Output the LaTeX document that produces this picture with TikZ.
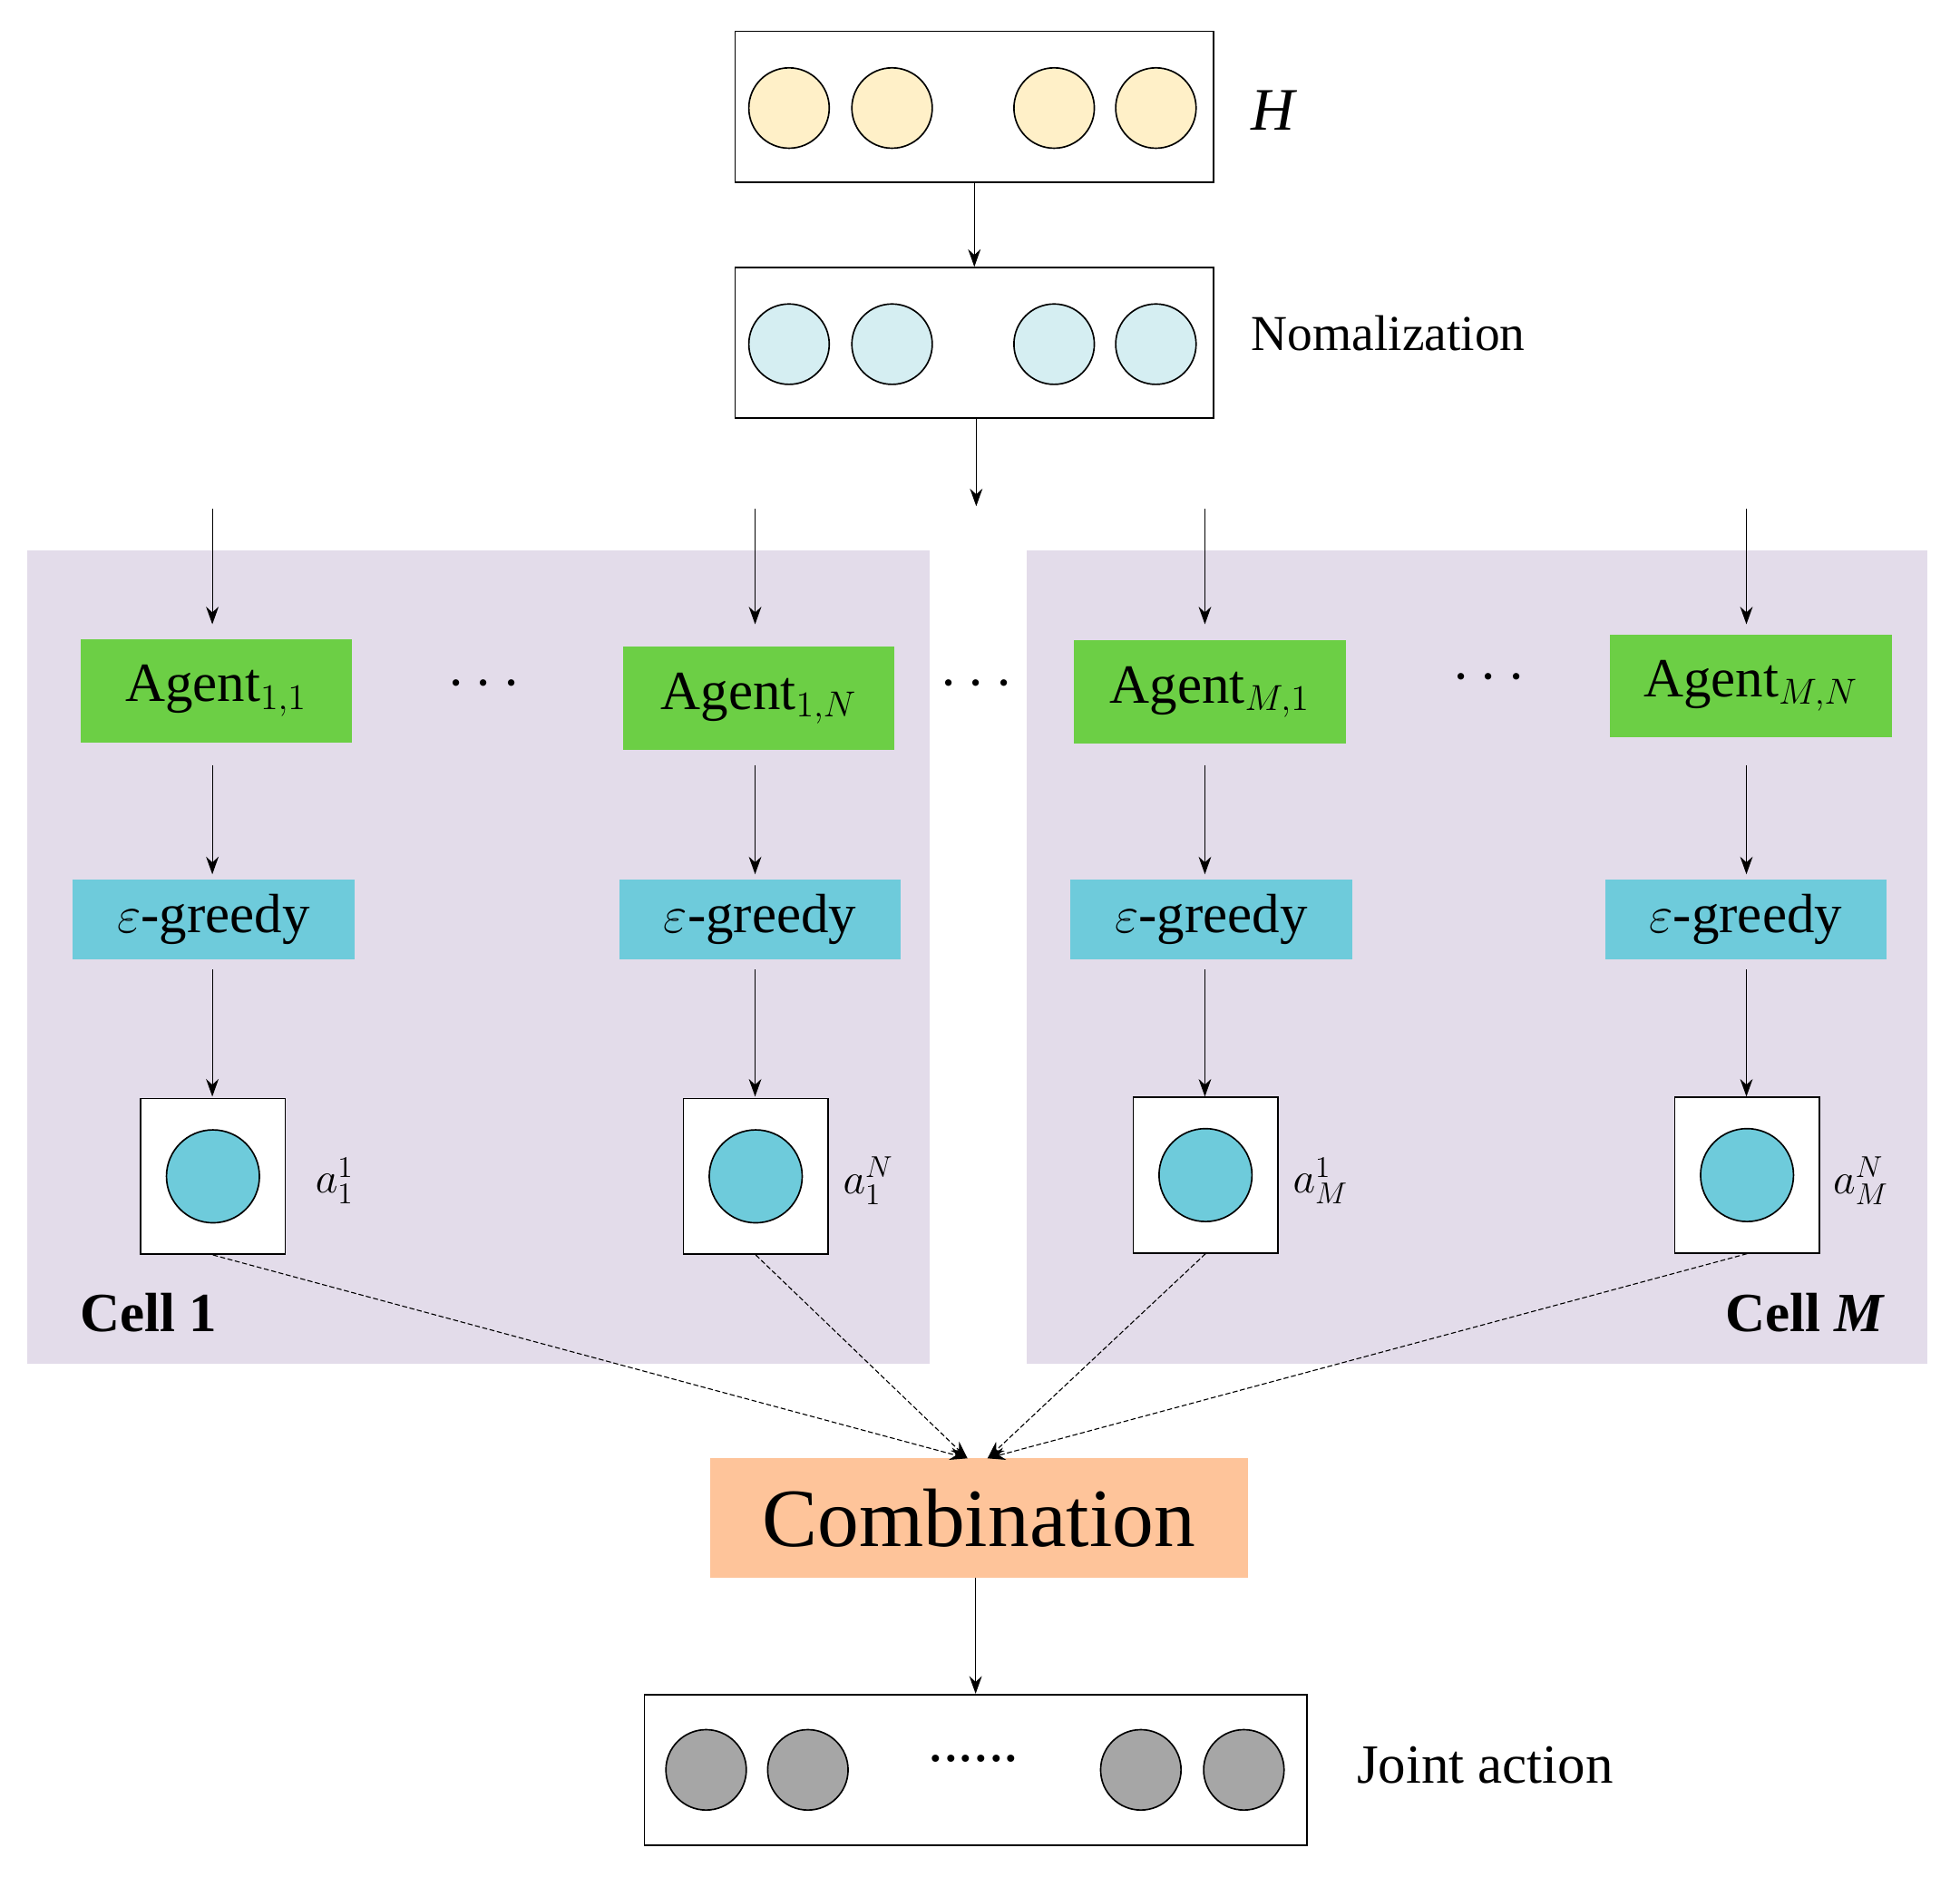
\documentclass[tikz,border=0pt]{standalone}
\usepackage{fontspec}
\setmainfont{Liberation Serif}
\usetikzlibrary{arrows.meta}
\definecolor{cyel}{HTML}{FFF0C8}
\definecolor{ccyan}{HTML}{D5EEF2}
\definecolor{panel}{HTML}{E3DCEA}
\definecolor{agreen}{HTML}{6CCF45}
\definecolor{gblue}{HTML}{6ECBDB}
\definecolor{comb}{HTML}{FEC49A}
\definecolor{gry}{HTML}{A6A6A6}
\begin{document}
\begin{tikzpicture}[x=0.5pt,y=-0.5pt,
 box/.style={draw,line width=0.6pt,fill=white},
 circ/.style={draw,line width=0.6pt,circle,minimum size=32pt,inner sep=0pt},
 arr/.style={-{Stealth[length=7pt,width=5pt]},line width=0.4pt},
 agent/.style={fill=agreen,minimum width=108pt,minimum height=41pt,font=\fontsize{22}{24}\selectfont,inner sep=0pt},
 greedy/.style={fill=gblue,minimum width=112pt,minimum height=32pt,font=\fontsize{22}{24}\selectfont,inner sep=0pt},
 act/.style={draw,fill=white,line width=0.6pt,minimum width=57.5pt,minimum height=62pt,inner sep=0pt},
 dsh/.style={dashed,dash pattern=on 2pt off 1pt,line width=0.4pt,-{Stealth[length=7pt,width=5pt]}},
 lab/.style={font=\fontsize{18}{20}\selectfont}]
\useasboundingbox (0,0) rectangle (1560,1494);
% panels
\fill[panel] (22,438) rectangle (740,1086);
\fill[panel] (817,438) rectangle (1534,1086);
% H
\node[box,minimum width=190.5pt,minimum height=60pt,inner sep=0pt] (hb) at (775.5,85) {};
\foreach \x/\n in {628/1,710/2,839/3,920/4} \node[circ,fill=cyel] (h\n) at (\x,86) {};
\node[font=\fontsize{24}{26}\selectfont\itshape] (hl) at (1013,88) {H};
% Norm
\node[box,minimum width=190.5pt,minimum height=60pt,inner sep=0pt] (nb) at (775.5,273) {};
\foreach \x/\n in {628/1,710/2,839/3,920/4} \node[circ,fill=ccyan] (n\n) at (\x,274) {};
\node[font=\fontsize{20}{22}\selectfont] (nl) at (1105,265) {Nomalization};
\draw[arr] (hb.south) -- (nb.north);
\coordinate (nd) at (777,403);
\draw[arr] (nb.south -| nd) -- (nd);
% agents
\node[agent] (a1) at (172,550) {Agent$_{1,1}$};
\node[agent] (a2) at (604,556) {Agent$_{1,N}$};
\node[agent] (a3) at (963,551) {Agent$_{M,1}$};
\node[agent,minimum width=112.5pt] (a4) at (1393.5,546) {Agent$_{M,N}$};
\foreach \x/\n in {169/1,601/2,959/3,1390/4}{
 \coordinate (t\n) at (\x,405); \coordinate (tt\n) at (\x,497);
 \draw[arr] (t\n) -- (tt\n);
}
\node[font=\fontsize{24}{26}\selectfont] (d1) at (385,545) {$\cdots$};
\node[font=\fontsize{24}{26}\selectfont] (d2) at (777,545) {$\cdots$};
\node[font=\fontsize{24}{26}\selectfont] (d3) at (1185,540) {$\cdots$};
% greedy
\node[greedy] (g1) at (170,732) {$\varepsilon$-greedy};
\node[greedy] (g2) at (605,732) {$\varepsilon$-greedy};
\node[greedy] (g3) at (964,732) {$\varepsilon$-greedy};
\node[greedy] (g4) at (1389.5,732) {$\varepsilon$-greedy};
% actions
\node[act] (b1) at (169.5,936.5) {};
\node[act] (b2) at (601.5,936.5) {};
\node[act] (b3) at (959.5,935.5) {};
\node[act] (b4) at (1390.5,935.5) {};
\foreach \n in {1,2,3,4}{
 \node[circ,fill=gblue,minimum size=37pt] at (b\n) {};
}
\foreach \n/\x in {1/169,2/601,3/959,4/1390}{
 \draw[arr] (\x,609) -- (\x,696);
 \draw[arr] (\x,772) -- (\x,873);
}
\node[lab,anchor=west] (l1) at (244,940) {$a_1^1$};
\node[lab,anchor=west] (l2) at (664,940) {$a_1^N$};
\node[lab,anchor=west] (l3) at (1022,940) {$a_M^1$};
\node[lab,anchor=west] (l4) at (1452,940) {$a_M^N$};
\node[font=\fontsize{22}{24}\selectfont\bfseries] (c1) at (118,1045) {Cell 1};
\node[font=\fontsize{22}{24}\selectfont\bfseries] (cM) at (1437,1045) {Cell \textit{M}};
% combination
\node[fill=comb,minimum width=214pt,minimum height=47.5pt,font=\fontsize{33}{36}\selectfont,inner sep=0pt] (cb) at (779,1208.5) {Combination};
\coordinate (ca) at (770,1161); \coordinate (cc) at (786,1161);
\draw[dsh] (b1.south) -- (ca);
\draw[dsh] (b2.south) -- (ca);
\draw[dsh] (b3.south) -- (cc);
\draw[dsh] (b4.south) -- (cc);
% joint
\node[box,minimum width=263.5pt,minimum height=60pt,inner sep=0pt] (jb) at (776.5,1409) {};
\draw[arr] (cb.south -| jb.north) -- (jb.north);
\foreach \x/\n in {562/1,643/2,908/3,990/4} \node[circ,fill=gry] (j\n) at (\x,1409) {};
\node[font=\fontsize{24}{26}\selectfont] (jd) at (775,1400) {......};
\node[font=\fontsize{22}{24}\selectfont] (jl) at (1182,1405) {Joint action};
\end{tikzpicture}
\end{document}
